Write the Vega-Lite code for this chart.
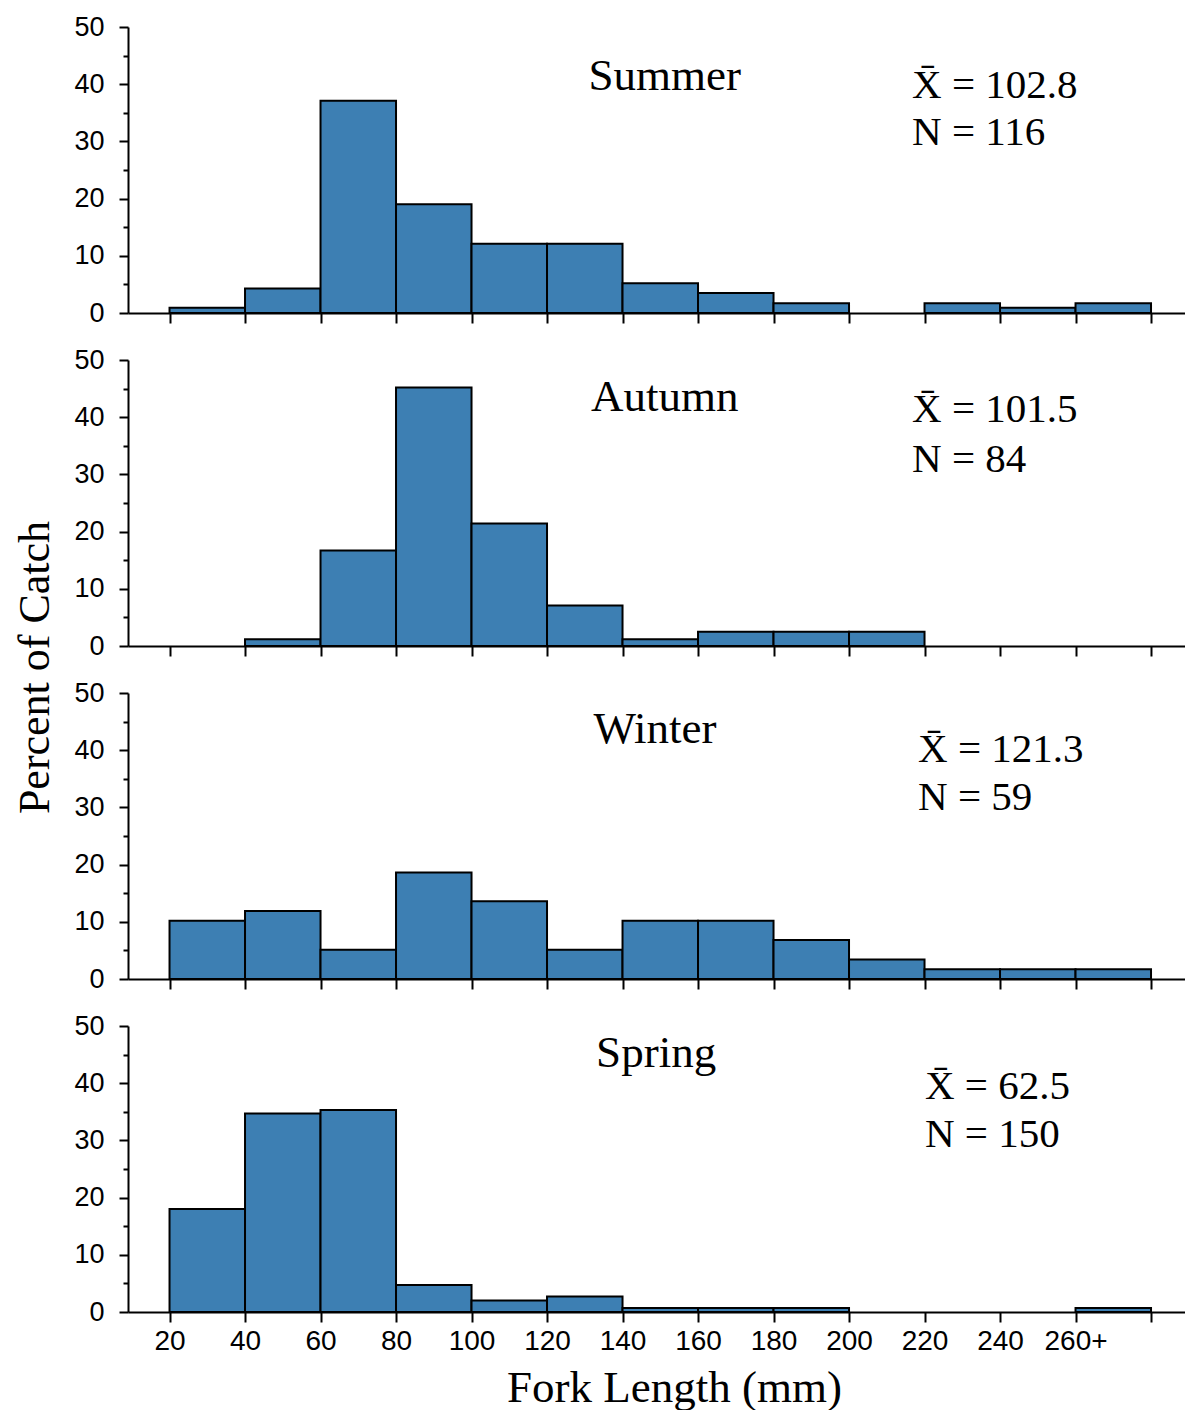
{
  "$schema": "https://vega.github.io/schema/vega-lite/v6.json",
  "padding": {"left": 13, "top": 13, "right": 0, "bottom": 0},
  "bounds": "flush",
  "spacing": 47,
  "background": "white",
  "config": {
    "view": {"stroke": null},
    "axis": {
      "grid": false,
      "domainColor": "black",
      "tickColor": "black",
      "labelColor": "black",
      "titleColor": "black",
      "labelFont": "Liberation Sans",
      "titleFont": "Liberation Serif",
      "titleFontWeight": "normal",
      "domainWidth": 2,
      "tickWidth": 2
    }
  },
  "datasets": {
    "bins": [
      {"season": "Summer", "start": 20, "end": 40, "pct": 0.9},
      {"season": "Summer", "start": 40, "end": 60, "pct": 4.3},
      {"season": "Summer", "start": 60, "end": 80, "pct": 37.1},
      {"season": "Summer", "start": 80, "end": 100, "pct": 19.0},
      {"season": "Summer", "start": 100, "end": 120, "pct": 12.1},
      {"season": "Summer", "start": 120, "end": 140, "pct": 12.1},
      {"season": "Summer", "start": 140, "end": 160, "pct": 5.2},
      {"season": "Summer", "start": 160, "end": 180, "pct": 3.5},
      {"season": "Summer", "start": 180, "end": 200, "pct": 1.7},
      {"season": "Summer", "start": 220, "end": 240, "pct": 1.7},
      {"season": "Summer", "start": 240, "end": 260, "pct": 0.9},
      {"season": "Summer", "start": 260, "end": 280, "pct": 1.7},
      {"season": "Autumn", "start": 40, "end": 60, "pct": 1.2},
      {"season": "Autumn", "start": 60, "end": 80, "pct": 16.7},
      {"season": "Autumn", "start": 80, "end": 100, "pct": 45.2},
      {"season": "Autumn", "start": 100, "end": 120, "pct": 21.4},
      {"season": "Autumn", "start": 120, "end": 140, "pct": 7.1},
      {"season": "Autumn", "start": 140, "end": 160, "pct": 1.2},
      {"season": "Autumn", "start": 160, "end": 180, "pct": 2.5},
      {"season": "Autumn", "start": 180, "end": 200, "pct": 2.5},
      {"season": "Autumn", "start": 200, "end": 220, "pct": 2.5},
      {"season": "Winter", "start": 20, "end": 40, "pct": 10.2},
      {"season": "Winter", "start": 40, "end": 60, "pct": 11.9},
      {"season": "Winter", "start": 60, "end": 80, "pct": 5.1},
      {"season": "Winter", "start": 80, "end": 100, "pct": 18.6},
      {"season": "Winter", "start": 100, "end": 120, "pct": 13.6},
      {"season": "Winter", "start": 120, "end": 140, "pct": 5.1},
      {"season": "Winter", "start": 140, "end": 160, "pct": 10.2},
      {"season": "Winter", "start": 160, "end": 180, "pct": 10.2},
      {"season": "Winter", "start": 180, "end": 200, "pct": 6.8},
      {"season": "Winter", "start": 200, "end": 220, "pct": 3.4},
      {"season": "Winter", "start": 220, "end": 240, "pct": 1.7},
      {"season": "Winter", "start": 240, "end": 260, "pct": 1.7},
      {"season": "Winter", "start": 260, "end": 280, "pct": 1.7},
      {"season": "Spring", "start": 20, "end": 40, "pct": 18.0},
      {"season": "Spring", "start": 40, "end": 60, "pct": 34.7},
      {"season": "Spring", "start": 60, "end": 80, "pct": 35.3},
      {"season": "Spring", "start": 80, "end": 100, "pct": 4.7},
      {"season": "Spring", "start": 100, "end": 120, "pct": 2.0},
      {"season": "Spring", "start": 120, "end": 140, "pct": 2.7},
      {"season": "Spring", "start": 140, "end": 160, "pct": 0.7},
      {"season": "Spring", "start": 160, "end": 180, "pct": 0.7},
      {"season": "Spring", "start": 180, "end": 200, "pct": 0.7},
      {"season": "Spring", "start": 260, "end": 280, "pct": 0.7}
    ],
    "stats": [
      {"season": "Summer", "mean": 102.8, "n": 116},
      {"season": "Autumn", "mean": 101.5, "n": 84},
      {"season": "Winter", "mean": 121.3, "n": 59},
      {"season": "Spring", "mean": 62.5, "n": 150}
    ]
  },
  "vconcat": [
    {
      "width": 1057, "height": 286,
      "resolve": {"axis": {"y": "independent"}},
      "layer": [
        {
          "data": {"name": "bins"},
          "transform": [{"filter": "datum.season == 'Summer'"}],
          "mark": {"type": "bar", "fill": "#3d7fb3", "stroke": "black", "strokeWidth": 2},
          "encoding": {
            "x": {"field": "start", "type": "quantitative", "scale": {"domain": [9, 289], "nice": false, "zero": false},
              "axis": {"values": [20, 40, 60, 80, 100, 120, 140, 160, 180, 200, 220, 240, 260, 280], "tickSize": 10, "labels": false, "title": null}},
            "x2": {"field": "end"},
            "y": {"field": "pct", "type": "quantitative", "scale": {"domain": [0, 50], "nice": false},
              "axis": {"values": [0, 10, 20, 30, 40, 50], "tickSize": 9, "labelFontSize": 27, "labelPadding": 15, "title": null}},
            "y2": {"datum": 0}
          }
        },
        {
          "data": {"name": "stats"},
          "transform": [{"filter": "datum.season == 'Summer'"}],
          "mark": {"type": "text", "font": "Liberation Serif", "fontSize": 45, "align": "center", "baseline": "middle", "color": "black"},
          "encoding": {
            "x": {"datum": 151.2, "type": "quantitative"},
            "y": {"datum": 41.4, "type": "quantitative",
              "axis": {"orient": "left", "values": [5, 15, 25, 35, 45], "labels": false, "domain": false, "tickSize": 5, "title": null}},
            "text": {"field": "season"}
          }
        },
        {
          "data": {"name": "stats"},
          "transform": [{"filter": "datum.season == 'Summer'"}, {"calculate": "'X\u0304 = ' + format(datum.mean, '.1f')", "as": "meanLabel"}],
          "mark": {"type": "text", "font": "Liberation Serif", "fontSize": 41, "align": "left", "baseline": "middle", "color": "black"},
          "encoding": {
            "x": {"datum": 216.7, "type": "quantitative"},
            "y": {"datum": 39.7, "type": "quantitative", "axis": null},
            "text": {"field": "meanLabel"}
          }
        },
        {
          "data": {"name": "stats"},
          "transform": [{"filter": "datum.season == 'Summer'"}, {"calculate": "'N = ' + datum.n", "as": "nLabel"}],
          "mark": {"type": "text", "font": "Liberation Serif", "fontSize": 41, "align": "left", "baseline": "middle", "color": "black"},
          "encoding": {
            "x": {"datum": 216.7, "type": "quantitative"},
            "y": {"datum": 31.5, "type": "quantitative", "axis": null},
            "text": {"field": "nLabel"}
          }
        }
      ]
    },
    {
      "width": 1057, "height": 286,
      "resolve": {"axis": {"y": "independent"}},
      "layer": [
        {
          "data": {"name": "bins"},
          "transform": [{"filter": "datum.season == 'Autumn'"}],
          "mark": {"type": "bar", "fill": "#3d7fb3", "stroke": "black", "strokeWidth": 2},
          "encoding": {
            "x": {"field": "start", "type": "quantitative", "scale": {"domain": [9, 289], "nice": false, "zero": false},
              "axis": {"values": [20, 40, 60, 80, 100, 120, 140, 160, 180, 200, 220, 240, 260, 280], "tickSize": 10, "labels": false, "title": null}},
            "x2": {"field": "end"},
            "y": {"field": "pct", "type": "quantitative", "scale": {"domain": [0, 50], "nice": false},
              "axis": {"values": [0, 10, 20, 30, 40, 50], "tickSize": 9, "labelFontSize": 27, "labelPadding": 15,
                "title": "Percent of Catch", "titleFontSize": 44, "titleX": -93, "titleY": 307, "titleAngle": -90, "titleAlign": "center", "titleBaseline": "middle"}},
            "y2": {"datum": 0}
          }
        },
        {
          "data": {"name": "stats"},
          "transform": [{"filter": "datum.season == 'Autumn'"}],
          "mark": {"type": "text", "font": "Liberation Serif", "fontSize": 45, "align": "center", "baseline": "middle", "color": "black"},
          "encoding": {
            "x": {"datum": 151.2, "type": "quantitative"},
            "y": {"datum": 43.5, "type": "quantitative",
              "axis": {"orient": "left", "values": [5, 15, 25, 35, 45], "labels": false, "domain": false, "tickSize": 5, "title": null}},
            "text": {"field": "season"}
          }
        },
        {
          "data": {"name": "stats"},
          "transform": [{"filter": "datum.season == 'Autumn'"}, {"calculate": "'X\u0304 = ' + format(datum.mean, '.1f')", "as": "meanLabel"}],
          "mark": {"type": "text", "font": "Liberation Serif", "fontSize": 41, "align": "left", "baseline": "middle", "color": "black"},
          "encoding": {
            "x": {"datum": 216.7, "type": "quantitative"},
            "y": {"datum": 41.2, "type": "quantitative", "axis": null},
            "text": {"field": "meanLabel"}
          }
        },
        {
          "data": {"name": "stats"},
          "transform": [{"filter": "datum.season == 'Autumn'"}, {"calculate": "'N = ' + datum.n", "as": "nLabel"}],
          "mark": {"type": "text", "font": "Liberation Serif", "fontSize": 41, "align": "left", "baseline": "middle", "color": "black"},
          "encoding": {
            "x": {"datum": 216.7, "type": "quantitative"},
            "y": {"datum": 32.6, "type": "quantitative", "axis": null},
            "text": {"field": "nLabel"}
          }
        }
      ]
    },
    {
      "width": 1057, "height": 286,
      "resolve": {"axis": {"y": "independent"}},
      "layer": [
        {
          "data": {"name": "bins"},
          "transform": [{"filter": "datum.season == 'Winter'"}],
          "mark": {"type": "bar", "fill": "#3d7fb3", "stroke": "black", "strokeWidth": 2},
          "encoding": {
            "x": {"field": "start", "type": "quantitative", "scale": {"domain": [9, 289], "nice": false, "zero": false},
              "axis": {"values": [20, 40, 60, 80, 100, 120, 140, 160, 180, 200, 220, 240, 260, 280], "tickSize": 10, "labels": false, "title": null}},
            "x2": {"field": "end"},
            "y": {"field": "pct", "type": "quantitative", "scale": {"domain": [0, 50], "nice": false},
              "axis": {"values": [0, 10, 20, 30, 40, 50], "tickSize": 9, "labelFontSize": 27, "labelPadding": 15, "title": null}},
            "y2": {"datum": 0}
          }
        },
        {
          "data": {"name": "stats"},
          "transform": [{"filter": "datum.season == 'Winter'"}],
          "mark": {"type": "text", "font": "Liberation Serif", "fontSize": 45, "align": "center", "baseline": "middle", "color": "black"},
          "encoding": {
            "x": {"datum": 148.6, "type": "quantitative"},
            "y": {"datum": 43.7, "type": "quantitative",
              "axis": {"orient": "left", "values": [5, 15, 25, 35, 45], "labels": false, "domain": false, "tickSize": 5, "title": null}},
            "text": {"field": "season"}
          }
        },
        {
          "data": {"name": "stats"},
          "transform": [{"filter": "datum.season == 'Winter'"}, {"calculate": "'X\u0304 = ' + format(datum.mean, '.1f')", "as": "meanLabel"}],
          "mark": {"type": "text", "font": "Liberation Serif", "fontSize": 41, "align": "left", "baseline": "middle", "color": "black"},
          "encoding": {
            "x": {"datum": 218.3, "type": "quantitative"},
            "y": {"datum": 40.0, "type": "quantitative", "axis": null},
            "text": {"field": "meanLabel"}
          }
        },
        {
          "data": {"name": "stats"},
          "transform": [{"filter": "datum.season == 'Winter'"}, {"calculate": "'N = ' + datum.n", "as": "nLabel"}],
          "mark": {"type": "text", "font": "Liberation Serif", "fontSize": 41, "align": "left", "baseline": "middle", "color": "black"},
          "encoding": {
            "x": {"datum": 218.3, "type": "quantitative"},
            "y": {"datum": 31.6, "type": "quantitative", "axis": null},
            "text": {"field": "nLabel"}
          }
        }
      ]
    },
    {
      "width": 1057, "height": 286,
      "resolve": {"axis": {"y": "independent"}},
      "layer": [
        {
          "data": {"name": "bins"},
          "transform": [{"filter": "datum.season == 'Spring'"}],
          "mark": {"type": "bar", "fill": "#3d7fb3", "stroke": "black", "strokeWidth": 2},
          "encoding": {
            "x": {"field": "start", "type": "quantitative", "scale": {"domain": [9, 289], "nice": false, "zero": false},
              "axis": {"values": [20, 40, 60, 80, 100, 120, 140, 160, 180, 200, 220, 240, 260, 280], "tickSize": 10,
                "labelFontSize": 28, "labelPadding": 5,
                "labelExpr": "datum.value == 260 ? '260+' : (datum.value == 280 ? '' : datum.label)",
                "title": "Fork Length (mm)", "titleFontSize": 45, "titleX": 546, "titleY": 89, "titleBaseline": "alphabetic", "titleAlign": "center"}},
            "x2": {"field": "end"},
            "y": {"field": "pct", "type": "quantitative", "scale": {"domain": [0, 50], "nice": false},
              "axis": {"values": [0, 10, 20, 30, 40, 50], "tickSize": 9, "labelFontSize": 27, "labelPadding": 15, "title": null}},
            "y2": {"datum": 0}
          }
        },
        {
          "data": {"name": "stats"},
          "transform": [{"filter": "datum.season == 'Spring'"}],
          "mark": {"type": "text", "font": "Liberation Serif", "fontSize": 45, "align": "center", "baseline": "middle", "color": "black"},
          "encoding": {
            "x": {"datum": 148.9, "type": "quantitative"},
            "y": {"datum": 45.3, "type": "quantitative",
              "axis": {"orient": "left", "values": [5, 15, 25, 35, 45], "labels": false, "domain": false, "tickSize": 5, "title": null}},
            "text": {"field": "season"}
          }
        },
        {
          "data": {"name": "stats"},
          "transform": [{"filter": "datum.season == 'Spring'"}, {"calculate": "'X\u0304 = ' + format(datum.mean, '.1f')", "as": "meanLabel"}],
          "mark": {"type": "text", "font": "Liberation Serif", "fontSize": 41, "align": "left", "baseline": "middle", "color": "black"},
          "encoding": {
            "x": {"datum": 220.1, "type": "quantitative"},
            "y": {"datum": 39.3, "type": "quantitative", "axis": null},
            "text": {"field": "meanLabel"}
          }
        },
        {
          "data": {"name": "stats"},
          "transform": [{"filter": "datum.season == 'Spring'"}, {"calculate": "'N = ' + datum.n", "as": "nLabel"}],
          "mark": {"type": "text", "font": "Liberation Serif", "fontSize": 41, "align": "left", "baseline": "middle", "color": "black"},
          "encoding": {
            "x": {"datum": 220.1, "type": "quantitative"},
            "y": {"datum": 30.9, "type": "quantitative", "axis": null},
            "text": {"field": "nLabel"}
          }
        }
      ]
    }
  ]
}
